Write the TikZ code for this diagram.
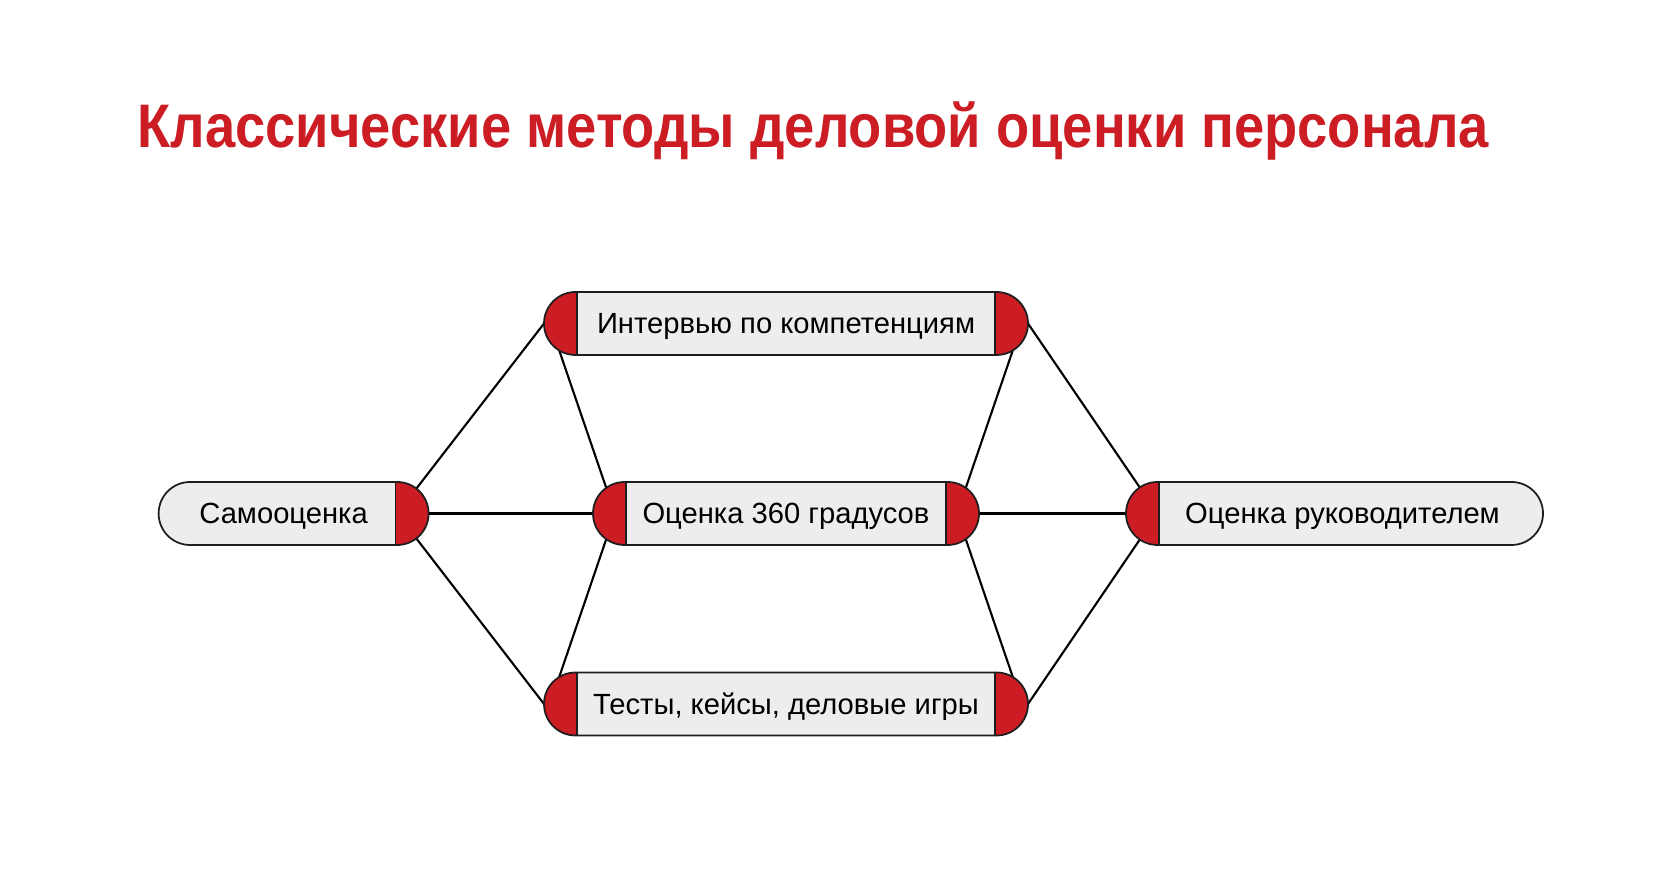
\documentclass[tikz,border=0pt]{standalone}
\usepackage{fontspec}
\setmainfont{Liberation Sans}
\newfontfamily\titlefont[FakeStretch=0.883]{Liberation Sans}
\usetikzlibrary{calc,backgrounds}
\definecolor{capRed}{RGB}{204,28,36}
\definecolor{pillGray}{RGB}{237,237,237}
\definecolor{lineCol}{RGB}{30,30,30}
\tikzset{
  pill/.style={draw=lineCol,line width=0.5pt,fill=pillGray,rounded corners=0.315cm,
               minimum height=0.63cm,inner sep=0pt,outer sep=0pt,
               text height=5.95pt,text depth=0pt,
               font=\fontsize{8.3pt}{10pt}\selectfont},
  capR/.style={path picture={
      \fill[capRed,sharp corners] ([xshift=-0.33cm]path picture bounding box.north east)
                    rectangle (path picture bounding box.south east);
      \draw[lineCol,line width=0.5pt] ([xshift=-0.33cm]path picture bounding box.north east)
                    -- ([xshift=-0.33cm]path picture bounding box.south east);}},
  capL/.style={path picture={
      \fill[capRed,sharp corners] ([xshift=0.33cm]path picture bounding box.north west)
                    rectangle (path picture bounding box.south west);
      \draw[lineCol,line width=0.5pt] ([xshift=0.33cm]path picture bounding box.north west)
                    -- ([xshift=0.33cm]path picture bounding box.south west);}},
  capLR/.style={path picture={
      \fill[capRed,sharp corners] ([xshift=-0.33cm]path picture bounding box.north east)
                    rectangle (path picture bounding box.south east);
      \fill[capRed,sharp corners] ([xshift=0.33cm]path picture bounding box.north west)
                    rectangle (path picture bounding box.south west);
      \draw[lineCol,line width=0.5pt] ([xshift=-0.33cm]path picture bounding box.north east)
                    -- ([xshift=-0.33cm]path picture bounding box.south east);
      \draw[lineCol,line width=0.5pt] ([xshift=0.33cm]path picture bounding box.north west)
                    -- ([xshift=0.33cm]path picture bounding box.south west);}},
  link/.style={draw=black,line width=0.6pt},
}

\begin{document}
\begin{tikzpicture}
  \useasboundingbox (0,0) rectangle (16.8,-8.73);
  % title
  \node[anchor=base west,inner sep=0pt,text=capRed,
        font=\titlefont\fontsize{17.5pt}{20pt}\selectfont\bfseries] (title) at (1.37,-1.48)
        {Классические методы деловой оценки персонала};
  % method pills
  \node[pill,capR,minimum width=2.70cm] (samo) at (2.936,-5.135) {Самооценка\hspace*{0.2cm}};
  \node[pill,capLR,minimum width=4.84cm] (interv) at (7.86,-3.235) {Интервью по компетенциям};
  \node[pill,capLR,minimum width=3.86cm] (ots360) at (7.86,-5.135) {Оценка 360 градусов};
  \node[pill,capLR,minimum width=4.84cm] (testy) at (7.86,-7.04) {Тесты, кейсы, деловые игры};
  \node[pill,capL,minimum width=4.17cm] (ruk) at (13.345,-5.135) {\hspace*{0.16cm}Оценка руководителем};
  % connectors (behind the pills)
  \begin{pgfonlayer}{background}
    \coordinate (samoCap) at ($(samo.east)+(-0.315,0)$);
    \coordinate (rukCap) at ($(ruk.west)+(0.315,0)$);
    \draw[link] (samoCap) -- (interv.west);
    \draw[link] (samoCap) -- ($(ots360.west)+(0.315,0)$);
    \draw[link] (samoCap) -- (testy.west);
    \draw[link] ($(interv.west)+(0.06,0)$) -- ($(ots360.west)+(0.22,0)$);
    \draw[link] ($(ots360.west)+(0.22,0)$) -- ($(testy.west)+(0.06,0)$);
    \draw[link] ($(interv.east)+(-0.06,0)$) -- ($(ots360.east)+(-0.22,0)$);
    \draw[link] ($(ots360.east)+(-0.22,0)$) -- ($(testy.east)+(-0.06,0)$);
    \draw[link] (interv.east) -- (rukCap);
    \draw[link] ($(ots360.east)+(-0.315,0)$) -- (rukCap);
    \draw[link] (testy.east) -- (rukCap);
  \end{pgfonlayer}
\end{tikzpicture}
\end{document}
